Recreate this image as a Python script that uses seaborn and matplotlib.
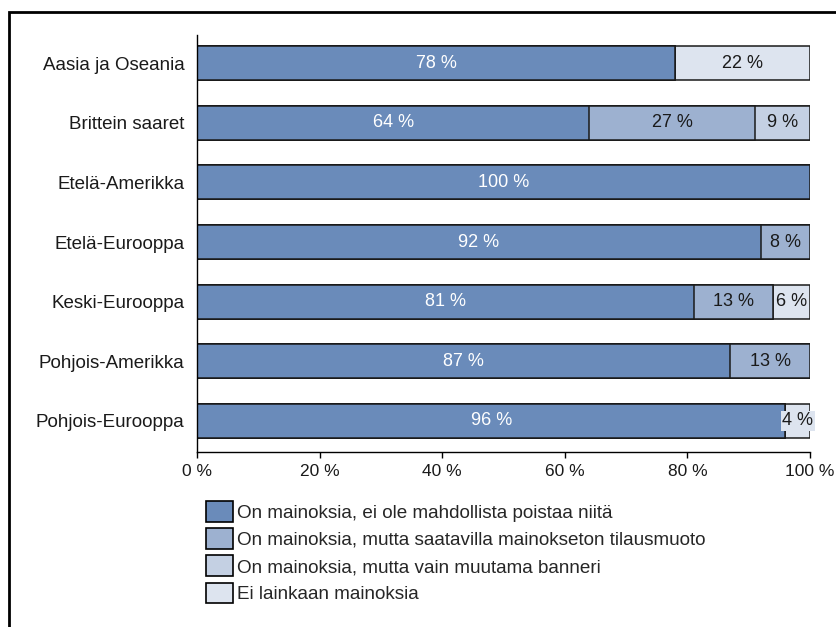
import matplotlib
matplotlib.use("Agg")
import matplotlib.pyplot as plt
from matplotlib.patches import Patch, Rectangle
import numpy as np
import pandas as pd
import seaborn as sns

# Regions and share of services by advertising model (percent)
regions = [
    "Aasia ja Oseania",
    "Brittein saaret",
    "Etelä-Amerikka",
    "Etelä-Eurooppa",
    "Keski-Eurooppa",
    "Pohjois-Amerikka",
    "Pohjois-Eurooppa",
]
ads_no_removal = [78, 64, 100, 92, 81, 87, 96]
ads_with_adfree_plan = [0, 27, 0, 8, 13, 13, 0]
ads_few_banners = [0, 9, 0, 0, 0, 0, 0]
no_ads = [22, 0, 0, 0, 6, 0, 4]

series_names = [
    "On mainoksia, ei ole mahdollista poistaa niitä",
    "On mainoksia, mutta saatavilla mainokseton tilausmuoto",
    "On mainoksia, mutta vain muutama banneri",
    "Ei lainkaan mainoksia",
]
series_values = [ads_no_removal, ads_with_adfree_plan, ads_few_banners, no_ads]
colors = ["#6a8bba", "#9db1d0", "#c4d0e3", "#dde4ef"]
text_colors = ["white", "#1a1a1a", "#1a1a1a", "#1a1a1a"]

x_ticks = [0, 20, 40, 60, 80, 100]
x_tick_labels = ["0 %", "20 %", "40 %", "60 %", "80 %", "100 %"]

sns.set_theme(style="white")
plt.rcParams["font.family"] = ["Liberation Sans", "DejaVu Sans"]

W, H = 837, 627
fig = plt.figure(figsize=(W / 100, H / 100), dpi=100)
fig.patch.set_facecolor("white")
ax = fig.add_axes([197 / W, 1 - 452 / H, (810 - 197) / W, (452 - 35) / H])

# Stacked bars: draw cumulative totals from the outermost segment inwards
vals = np.array(series_values, dtype=float)
cum = np.cumsum(vals, axis=0)
for i in range(len(series_names) - 1, -1, -1):
    d = pd.DataFrame({"region": regions, "value": cum[i]})
    sns.barplot(
        data=d, x="value", y="region", order=regions, orient="h",
        color=colors[i], saturation=1, edgecolor="#1a1a1a", linewidth=1.1,
        width=0.57, ax=ax,
    )

# Segment value labels
starts = cum - vals
for i in range(len(series_names)):
    for j, region in enumerate(regions):
        v = vals[i, j]
        if v <= 0:
            continue
        ax.text(
            starts[i, j] + v / 2, j, f"{int(v)} %",
            ha="center", va="center", fontsize=13, color=text_colors[i],
            bbox=dict(facecolor=colors[i], edgecolor="none", pad=1.0),
            zorder=5,
        )

ax.set_xlim(0, 100)
ax.set_ylim(6.52, -0.47)
ax.set_xticks(x_ticks)
ax.set_xticklabels(x_tick_labels, fontsize=12.5, color="#1a1a1a")
ax.tick_params(axis="y", labelsize=13.5, labelcolor="#1a1a1a", length=0, pad=9)
ax.tick_params(axis="x", direction="out", length=4, width=1, color="black", pad=5,
               bottom=True)
ax.set_xlabel("")
ax.set_ylabel("")
for s in ["top", "right"]:
    ax.spines[s].set_visible(False)
for s in ["left", "bottom"]:
    ax.spines[s].set_color("black")
    ax.spines[s].set_linewidth(1.0)

handles = [Patch(facecolor=c, edgecolor="black", linewidth=1.2) for c in colors]
fig.legend(
    handles, series_names, loc="upper left",
    bbox_to_anchor=(206 / W, 1 - 501 / H), frameon=False,
    fontsize=13.6, borderpad=0, borderaxespad=0,
    handlelength=1.43, handleheight=1.3, handletextpad=0.2, labelspacing=0.35,
)

# Outer frame
fig.patches.append(Rectangle((9 / W, -0.1), 1.2, 1 - 12 / H + 0.1,
                             transform=fig.transFigure, fill=False,
                             edgecolor="black", linewidth=2.0))

fig.savefig("out.png", dpi=100)
